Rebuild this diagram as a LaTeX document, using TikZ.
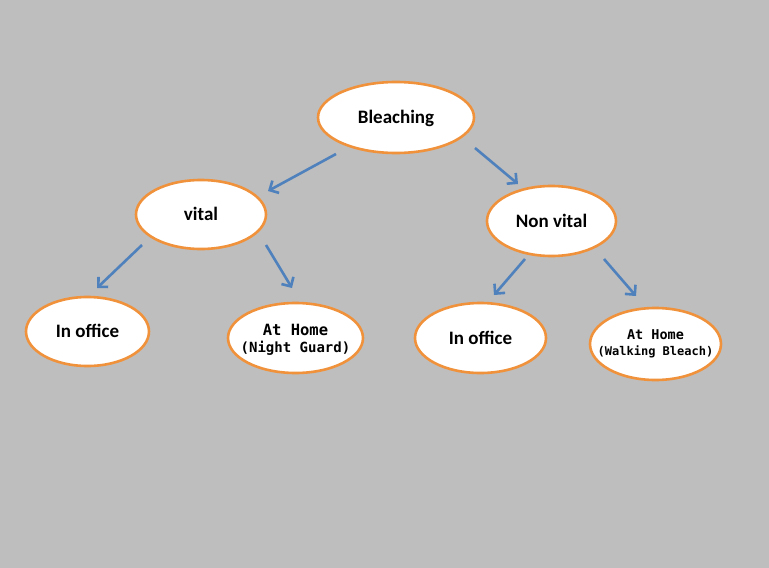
\documentclass[tikz,border=0pt]{standalone}
\usepackage{fontspec}
\setmainfont{Carlito}
\newfontfamily\monof{DejaVu Sans Mono}
\usetikzlibrary{shapes.geometric,arrows.meta,calc}
\definecolor{bgc}{RGB}{190,190,190}
\definecolor{orangec}{RGB}{240,146,60}
\definecolor{bluec}{RGB}{79,129,189}
\tikzset{
  ell/.style={ellipse, draw=orangec, line width=2.6pt, fill=white, inner sep=0pt, text height=14pt, text depth=2pt, font=\bfseries\fontsize{19}{21}\selectfont, align=center},
  mtext/.style={inner sep=0pt, align=center, font=\monof\bfseries},
  arr/.style={draw=bluec, line width=2.6pt, -{Straight Barb[length=7pt,width=14pt]}}
}
\begin{document}
\begin{tikzpicture}[x=1pt,y=-1pt]
\fill[bgc] (0,0) rectangle (769,568);
\useasboundingbox (0,0) rectangle (769,568);
\node[ell, minimum width=156pt, minimum height=71pt] (b) at (396,117.5) {Bleaching};
\node[ell, minimum width=130pt, minimum height=69pt] (v) at (201,214.5) {vital};
\node[ell, minimum width=129pt, minimum height=70pt] (nv) at (551.5,221) {Non vital};
\node[ell, minimum width=123pt, minimum height=69pt] (io1) at (87.5,331.5) {In office};
\node[ell, minimum width=135pt, minimum height=70pt] (ah1) at (295.5,338) {};
\node[mtext] (ah1a) at ($(ah1)+(0,-8)$) {\fontsize{15.5}{18}\selectfont At Home};
\node[mtext] (ah1b) at ($(ah1)+(0,10)$) {\fontsize{14}{17}\selectfont(Night Guard)};
\node[ell, minimum width=131pt, minimum height=70pt] (io2) at (480.5,338) {In office};
\node[ell, minimum width=131pt, minimum height=72pt] (ah2) at (655.5,344) {};
\node[mtext] (ah2a) at ($(ah2)+(0,-9)$) {\fontsize{13.5}{16}\selectfont At Home};
\node[mtext] (ah2b) at ($(ah2)+(0,7.5)$) {\fontsize{12}{15}\selectfont(Walking Bleach)};
\coordinate (s1) at ($(b)+(-60,36.5)$);
\coordinate (e1) at ($(v)+(67,-23.5)$);
\coordinate (s2) at ($(b)+(79,30.5)$);
\coordinate (e2) at ($(nv)+(-33.5,-37)$);
\coordinate (s3) at ($(v)+(-59,30.5)$);
\coordinate (e3) at ($(io1)+(9.5,-43.5)$);
\coordinate (s4) at ($(v)+(65,30.5)$);
\coordinate (e4) at ($(ah1)+(-3.5,-50)$);
\coordinate (s5) at ($(nv)+(-26.5,38)$);
\coordinate (e5) at ($(io2)+(13.5,-43)$);
\coordinate (s6) at ($(nv)+(52.5,38)$);
\coordinate (e6) at ($(ah2)+(-19.5,-48)$);
\draw[arr] (s1) -- (e1);
\draw[arr] (s2) -- (e2);
\draw[arr] (s3) -- (e3);
\draw[arr] (s4) -- (e4);
\draw[arr] (s5) -- (e5);
\draw[arr] (s6) -- (e6);
\end{tikzpicture}
\end{document}
